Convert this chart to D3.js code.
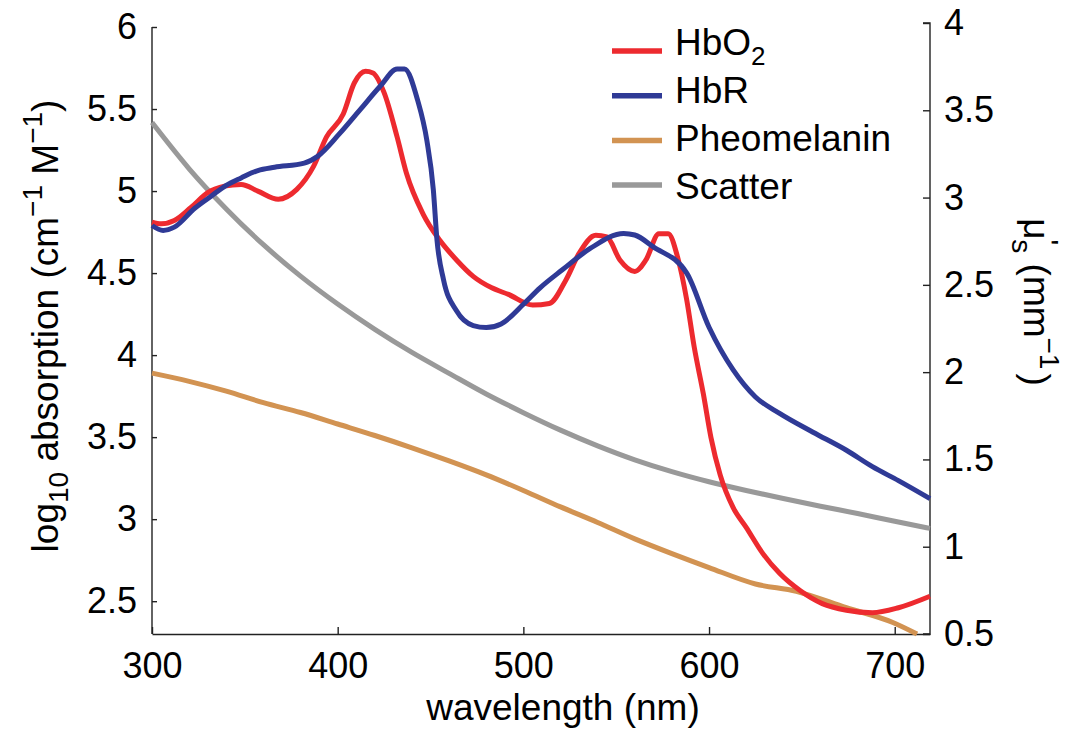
<!DOCTYPE html>
<html>
<head>
<meta charset="utf-8">
<script src="https://cdn.jsdelivr.net/npm/d3@7"></script>
<style>
  body { margin: 0; background: #fff; }
  svg text { font-family: "Liberation Sans", Arial, Helvetica, sans-serif; fill: #000; }
</style>
</head>
<body>
<div id="chart"></div>
<script>
// oxy-haemoglobin, log10 absorption, [wavelength nm, value]
const hbo2 = [
  [300, 4.81], [305, 4.80], [312, 4.82], [321, 4.90], [330, 4.99], [339, 5.03], [348, 5.04],
  [357, 5.00], [368, 4.95], [378, 5.01], [387, 5.15], [394, 5.33], [403, 5.47],
  [409, 5.66], [415, 5.73], [419, 5.72], [425, 5.60], [432, 5.33], [437, 5.11],
  [446, 4.86], [455, 4.70], [464, 4.58], [473, 4.48], [483, 4.41], [492, 4.37],
  [505, 4.305], [514, 4.315], [523, 4.46], [530, 4.62], [539, 4.73], [545, 4.72],
  [552, 4.58], [560, 4.51], [566, 4.58], [573, 4.74], [578, 4.74], [583, 4.60],
  [588, 4.335], [592, 4.05], [597, 3.76], [601, 3.50], [606, 3.27], [613, 3.07],
  [620, 2.95], [629, 2.79], [638, 2.67], [649, 2.565], [661, 2.485], [674, 2.445],
  [688, 2.43], [702, 2.46], [719, 2.53]
];

// deoxy-haemoglobin, log10 absorption
const hbr = [
  [300, 4.79], [306, 4.76], [312, 4.78], [323, 4.895], [332, 4.97], [340, 5.035],
  [348, 5.08], [357, 5.125], [366, 5.145], [382, 5.17], [389, 5.21], [401, 5.35],
  [412, 5.495], [423, 5.64], [432, 5.744], [436, 5.744], [443, 5.556], [448, 5.31],
  [451.5, 5.01], [453.5, 4.70], [457, 4.46], [464, 4.27], [473, 4.18], [480, 4.168],
  [488, 4.19], [500, 4.31], [509, 4.41], [521, 4.52], [536, 4.65], [554, 4.742],
  [560, 4.732], [570, 4.66], [588, 4.50], [600, 4.17], [613, 3.91], [625, 3.745],
  [638, 3.645], [656, 3.53], [674, 3.42], [688, 3.32], [702, 3.235], [719, 3.125]
];

// pheomelanin, log10 absorption
const pheomelanin = [
  [300, 3.89], [320, 3.84], [340, 3.78], [360, 3.71], [380, 3.65], [400, 3.58],
  [420, 3.51], [440, 3.435], [460, 3.355], [480, 3.27], [500, 3.175], [520, 3.075],
  [540, 2.98], [560, 2.88], [580, 2.79], [600, 2.705], [625, 2.605], [647, 2.56],
  [674, 2.46], [699, 2.37], [712, 2.30]
];

// reduced scattering coefficient mu_s' (mm^-1), right axis
const scatter = [
  [300, 3.43], [320, 3.165], [340, 2.935], [360, 2.73], [380, 2.55], [400, 2.39],
  [420, 2.245], [440, 2.113], [460, 1.993], [480, 1.875], [500, 1.768], [520, 1.668],
  [540, 1.578], [560, 1.498], [580, 1.43], [600, 1.372], [620, 1.322], [640, 1.276],
  [660, 1.232], [680, 1.19], [700, 1.146], [719, 1.105]
];

const xTicks = [300, 400, 500, 600, 700];
const leftTicks = [2.5, 3, 3.5, 4, 4.5, 5, 5.5, 6];
const rightTicks = [0.5, 1, 1.5, 2, 2.5, 3, 3.5, 4];
const legendNames = ["HbO", "HbR", "Pheomelanin", "Scatter"];

const width = 1074, height = 731;
const tickFont = 36, titleFont = 37, legendFont = 37;

const svg = d3.select("#chart").append("svg")
  .attr("width", width)
  .attr("height", height);

const x = d3.scaleLinear().domain([300, 719]).range([152, 930]);
const yLeft = d3.scaleLinear().domain([2.3, 6]).range([634, 27]);
const yRight = d3.scaleLinear().domain([0.5, 4]).range([634, 23]);

const fmt = d => String(d);

// axes, ticks pointing inward
const gx = svg.append("g")
  .attr("transform", `translate(0,${yLeft.range()[0]})`)
  .call(d3.axisBottom(x).tickValues(xTicks).tickFormat(fmt)
    .tickSizeInner(-7).tickSizeOuter(0).tickPadding(18));

const gl = svg.append("g")
  .attr("transform", `translate(${x.range()[0]},0)`)
  .call(d3.axisLeft(yLeft).tickValues(leftTicks).tickFormat(fmt)
    .tickSizeInner(-5).tickSizeOuter(0).tickPadding(15));

const gr = svg.append("g")
  .attr("transform", `translate(${x.range()[1]},0)`)
  .call(d3.axisRight(yRight).tickValues(rightTicks).tickFormat(fmt)
    .tickSizeInner(-7).tickSizeOuter(0).tickPadding(14));

[gx, gl, gr].forEach(g => {
  g.selectAll(".domain").attr("stroke", "#222").attr("stroke-width", 1.4);
  g.selectAll(".tick line").attr("stroke", "#222").attr("stroke-width", 1.4);
  g.selectAll(".tick text")
    .style("font-size", tickFont + "px")
    .attr("fill", "#000");
});

gl.select(".domain").attr("d", `M0,${yLeft.range()[1]}V${yLeft.range()[0]}`);
gr.select(".domain").attr("d", `M-7,${yRight.range()[1]}H0V${yRight.range()[0]}H-7`);

// lines
const lineLeft = d3.line()
  .x(d => x(d[0]))
  .y(d => yLeft(d[1]))
  .curve(d3.curveMonotoneX);

const lineRight = d3.line()
  .x(d => x(d[0]))
  .y(d => yRight(d[1]))
  .curve(d3.curveMonotoneX);

const colors = ["#ed2a2f", "#2f3a96", "#d29352", "#999999"];

svg.append("path").datum(scatter)
  .attr("fill", "none").attr("stroke", colors[3]).attr("stroke-width", 5)
  .attr("d", lineRight);

svg.append("path").datum(pheomelanin)
  .attr("fill", "none").attr("stroke", colors[2]).attr("stroke-width", 5)
  .attr("d", lineLeft);

svg.append("path").datum(hbo2)
  .attr("fill", "none").attr("stroke", colors[0]).attr("stroke-width", 5)
  .attr("stroke-linejoin", "round")
  .attr("d", lineLeft);

svg.append("path").datum(hbr)
  .attr("fill", "none").attr("stroke", colors[1]).attr("stroke-width", 5)
  .attr("stroke-linejoin", "round")
  .attr("d", lineLeft);

// axis titles
svg.append("text")
  .attr("x", 563)
  .attr("y", 720)
  .attr("text-anchor", "middle")
  .style("font-size", titleFont + "px")
  .text("wavelength (nm)");

const leftTitle = svg.append("text")
  .attr("transform", "translate(58,326) rotate(-90)")
  .attr("text-anchor", "middle")
  .style("font-size", titleFont + "px");
leftTitle.append("tspan").text("log");
leftTitle.append("tspan").attr("dy", 10).style("font-size", "28px").text("10");
leftTitle.append("tspan").attr("dy", -10).text(" absorption (cm");
leftTitle.append("tspan").attr("dy", -16).style("font-size", "28px").text("\u22121");
leftTitle.append("tspan").attr("dy", 16).text(" M");
leftTitle.append("tspan").attr("dy", -16).style("font-size", "28px").text("\u22121");
leftTitle.append("tspan").attr("dy", 16).text(")");

const rightTitle = svg.append("text")
  .attr("transform", "translate(1024,302) rotate(90)")
  .attr("text-anchor", "middle")
  .style("font-size", titleFont + "px");
rightTitle.append("tspan").text("\u03bc");
rightTitle.append("tspan").attr("dy", -14).style("font-size", "30px").text("'");
rightTitle.append("tspan").attr("dx", -6).attr("dy", 26).style("font-size", "28px").text("s");
rightTitle.append("tspan").attr("dy", -12).text(" (mm");
rightTitle.append("tspan").attr("dy", -16).style("font-size", "28px").text("\u22121");
rightTitle.append("tspan").attr("dx", 4).attr("dy", 16).text(")");

// legend
const legend = svg.append("g");
legendNames.forEach((name, i) => {
  legend.append("line")
    .attr("x1", 612).attr("x2", 662)
    .attr("y1", 51 + i * 44.7).attr("y2", 51 + i * 44.7)
    .attr("stroke", colors[i]).attr("stroke-width", 5.5);
  const t = legend.append("text")
    .attr("x", 675).attr("y", 55 + i * 48)
    .style("font-size", legendFont + "px")
    .text(name);
  if (i === 0) {
    t.append("tspan").attr("dy", 10).style("font-size", "26px").text("2");
  }
});
</script>
</body>
</html>
